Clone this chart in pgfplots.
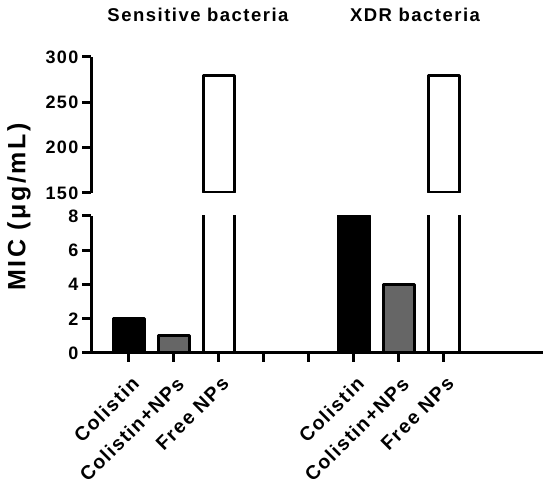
\documentclass[border=0pt]{standalone}
\usepackage{fontspec}
\setmainfont{Liberation Sans}
\newfontfamily\spaced[LetterSpace=8]{Liberation Sans}
\newfontfamily\yspaced[LetterSpace=10]{Liberation Sans}
\usepackage{pgfplots}
\pgfplotsset{compat=1.18}
\definecolor{bargray}{RGB}{102,102,102}
\pgfplotsset{
 common/.style={
  scale only axis, width=452pt, xmin=-0.844, xmax=9.2,
  anchor=south west,
  axis line style={line width=3pt, black},
  every tick/.style={line width=3pt, black},
  major tick length=9pt,
  tick align=outside,
  /pgf/number format/assume math mode=true,
  y tick label style={font=\spaced\bfseries\fontsize{18}{21}\selectfont},
  clip=true,
  axis on top=true,
 },
 barA/.style={ybar, bar width=0.68, bar shift=0pt, line width=3pt, line join=round, draw=black, fill=black},
 barB/.style={ybar, bar width=0.68, bar shift=0pt, line width=3pt, line join=round, draw=black, fill=bargray},
 barC/.style={ybar, bar width=0.68, bar shift=0pt, line width=3pt, line join=round, draw=black, fill=white},
}
\begin{document}
\begin{tikzpicture}
% lower segment
\begin{axis}[common, at={(91pt,134pt)}, height=137pt,
  ymin=0, ymax=8, ytick={0,2,4,6,8},
  axis x line*=bottom, axis y line*=left,
  xtick={0,...,7},
  xticklabels={Colistin,Colistin+NPs,Free NPs,{},{},Colistin,Colistin+NPs,Free NPs},
  x tick label style={anchor=east, xshift=9pt, yshift=-16pt, rotate=45, font=\spaced\bfseries\fontsize{19.5}{22}\selectfont},
]
\addplot[barA] coordinates {(0,2) (5,8)};
\addplot[barB] coordinates {(1,1) (6,4)};
\addplot[barC] coordinates {(2,280) (7,280)};
\end{axis}
% upper segment
\begin{axis}[common, at={(91pt,294pt)}, height=136pt,
  ymin=150, ymax=300, ytick={150,200,250,300},
  axis x line=none, axis y line*=left, xtick=\empty,
]
\addplot[barC] coordinates {(2,280) (7,280)};
\end{axis}
\node[font=\spaced\bfseries\fontsize{18.5}{21}\selectfont] at (198pt,472pt) {Sensitive bacteria};
\node[font=\spaced\bfseries\fontsize{18.5}{21}\selectfont] at (415pt,472pt) {XDR bacteria};
\node[rotate=90, font=\yspaced\bfseries\fontsize{25}{30}\selectfont] at (19pt,280pt) {MIC (μg/mL)};
\pgfresetboundingbox
\useasboundingbox (0pt,0pt) rectangle (550pt,487pt);
\end{tikzpicture}
\end{document}
